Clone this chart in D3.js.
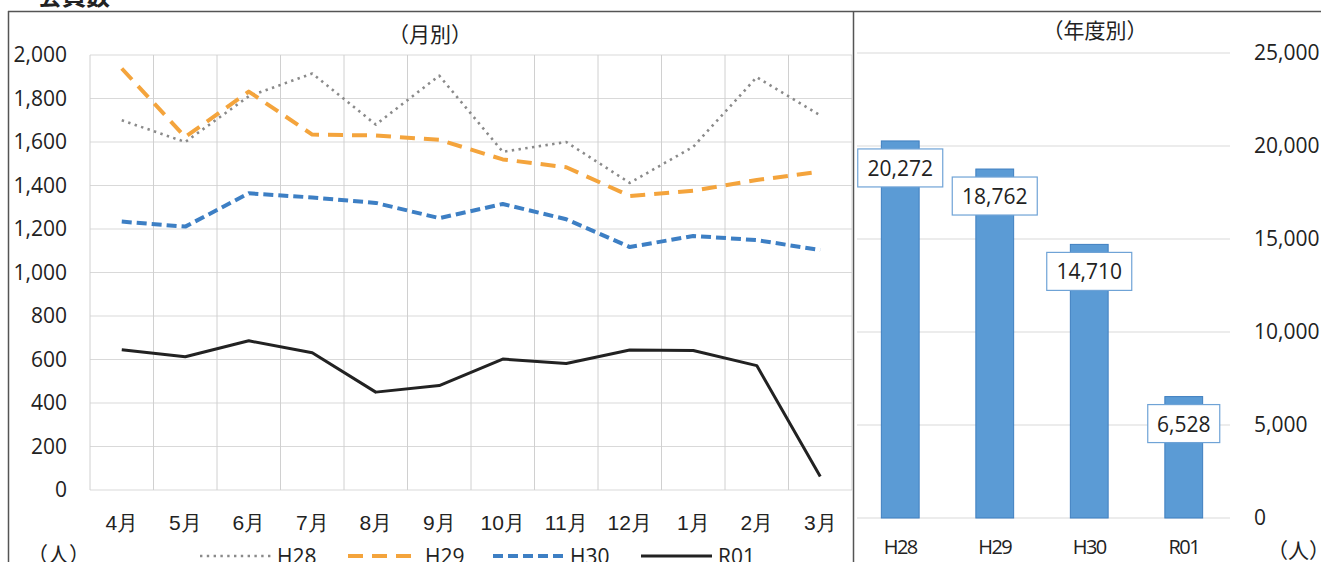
<!DOCTYPE html>
<html><head><meta charset="utf-8">
<script src="https://cdn.jsdelivr.net/npm/d3@7"></script>
<style>
html,body{margin:0;padding:0;background:#fff;}
svg{display:block;font-family:"Noto Sans CJK JP","Noto Sans",sans-serif;}
</style></head>
<body>
<svg id="c" width="1321" height="562"></svg>
<script>
const months = ["4月","5月","6月","7月","8月","9月","10月","11月","12月","1月","2月","3月"];
const seriesNames = ["H28","H29","H30","R01"];
const h28 = [1700,1600,1810,1915,1680,1905,1555,1600,1412,1578,1898,1722];
const h29 = [1938,1623,1832,1634,1630,1610,1520,1484,1352,1376,1425,1464];
const h30 = [1234,1211,1364,1345,1320,1250,1315,1245,1117,1168,1149,1103];
const r01 = [645,613,686,631,450,480,602,582,644,641,572,62];
const leftTicks = [0,200,400,600,800,1000,1200,1400,1600,1800,2000];
const years = ["H28","H29","H30","R01"];
const yearTotals = [20272,18762,14710,6528];
const rightTicks = [0,5000,10000,15000,20000,25000];

const svg = d3.select("#c");
const fmt = d3.format(",");
const numFont = "'Open Sans',sans-serif";

// frame
svg.append("line").attr("x1",8).attr("x2",1321).attr("y1",11.5).attr("y2",11.5).attr("stroke","#555").attr("stroke-width",1.5);
svg.append("line").attr("x1",8.5).attr("x2",8.5).attr("y1",11).attr("y2",562).attr("stroke","#555").attr("stroke-width",1.5);
svg.append("line").attr("x1",853.5).attr("x2",853.5).attr("y1",11).attr("y2",562).attr("stroke","#555").attr("stroke-width",1.5);

// title (clipped at top)
svg.append("text").attr("x",38).attr("y",5).attr("font-size",24).attr("font-weight","bold").attr("fill","#222").text("会員数");

// ===== Left chart =====
const x = d3.scaleBand().domain(months).range([90,852]);
const y = d3.scaleLinear().domain([0,2000]).range([490,55]);
const gl = svg.append("g");
gl.selectAll(".hg").data(leftTicks).join("line")
  .attr("x1",90).attr("x2",852).attr("y1",d=>y(d)).attr("y2",d=>y(d))
  .attr("stroke","#d9d9d9").attr("stroke-width",1);
const vlines = months.map(m=>x(m)).concat([852]);
gl.selectAll(".vg").data(vlines).join("line")
  .attr("x1",d=>d).attr("x2",d=>d).attr("y1",y(2000)).attr("y2",y(0))
  .attr("stroke","#d0d0d0").attr("stroke-width",1);

const yAxis = d3.axisLeft(y).tickValues(leftTicks).tickFormat(fmt).tickSize(0).tickPadding(0);
const ya = svg.append("g").attr("transform","translate(67,0)").call(yAxis);
ya.select(".domain").remove();
ya.selectAll("text").attr("font-size",21).attr("fill","#222").attr("font-family",numFont);

const xAxis = d3.axisBottom(x).tickSize(0).tickPadding(0);
const xa = svg.append("g").attr("transform","translate(0,511)").call(xAxis);
xa.select(".domain").remove();
xa.selectAll("text").attr("font-size",21).attr("fill","#222").attr("dy","0.9em");

const line = d3.line().x((d,i)=>x(months[i])+x.bandwidth()/2).y(d=>y(d));
const styles = [
  {data:h28, color:"#8a8a8a", w:2.6, dash:"2.4,4.4"},
  {data:h29, color:"#f4a43c", w:4, dash:"15,9"},
  {data:h30, color:"#3d7fc4", w:4, dash:"10,5"},
  {data:r01, color:"#222222", w:3, dash:null}
];
styles.forEach(s=>{
  svg.append("path").datum(s.data).attr("d",line)
    .attr("fill","none").attr("stroke",s.color).attr("stroke-width",s.w)
    .attr("stroke-dasharray",s.dash).attr("stroke-linejoin","round");
});

svg.append("text").attr("x",430).attr("y",42).attr("text-anchor","middle").attr("font-size",21).attr("fill","#222").text("（月別）");
svg.append("text").attr("x",27).attr("y",562).attr("font-size",21).attr("fill","#222").text("（人）");

// legend
const legX = [200,348,493,641];
const legG = svg.append("g");
styles.forEach((s,i)=>{
  legG.append("line").attr("x1",legX[i]).attr("x2",legX[i]+71).attr("y1",556).attr("y2",556)
    .attr("stroke",s.color).attr("stroke-width",s.w).attr("stroke-dasharray",s.dash);
  legG.append("text").attr("x",legX[i]+77).attr("y",564).attr("font-size",21).attr("fill","#222")
    .attr("font-family",numFont).text(seriesNames[i]);
});

// ===== Right chart =====
const xb = d3.scaleBand().domain(years).range([853,1231]).paddingInner(0.6).paddingOuter(0.3);
const yb = d3.scaleLinear().domain([0,25000]).range([518,53]);
svg.append("g").selectAll("line").data(rightTicks).join("line")
  .attr("x1",857).attr("x2",1230).attr("y1",d=>yb(d)).attr("y2",d=>yb(d))
  .attr("stroke","#d9d9d9").attr("stroke-width",1);

const yRA = d3.axisRight(yb).tickValues(rightTicks).tickFormat(fmt).tickSize(0).tickPadding(0);
const yr = svg.append("g").attr("transform","translate(1254,0)").call(yRA);
yr.select(".domain").remove();
yr.selectAll("text").attr("font-size",21).attr("fill","#222").attr("font-family",numFont);

svg.append("g").selectAll("rect").data(yearTotals).join("rect")
  .attr("x",(d,i)=>xb(years[i])).attr("width",xb.bandwidth())
  .attr("y",d=>yb(d)).attr("height",d=>yb(0)-yb(d))
  .attr("fill","#5b9bd5").attr("stroke","#3f7fc0").attr("stroke-width",1);

const xRA = d3.axisBottom(xb).tickSize(0).tickPadding(0);
const xr = svg.append("g").attr("transform","translate(0,536)").call(xRA);
xr.select(".domain").remove();
xr.selectAll("text").attr("font-size",20).attr("fill","#222").attr("dy","0.9em")
  .attr("font-family",numFont).attr("letter-spacing","-1.6");

const lab = svg.append("g").selectAll("g").data(yearTotals).join("g")
  .attr("transform",(d,i)=>`translate(${xb(years[i])+xb.bandwidth()/2},${yb(d)+27})`);
lab.append("rect").attr("x",d=>-(fmt(d).length*6.5+3.5)).attr("y",-19)
  .attr("width",d=>2*(fmt(d).length*6.5+3.5)).attr("height",38)
  .attr("fill","#fff").attr("stroke","#6fa3d6").attr("stroke-width",1.2);
lab.append("text").attr("text-anchor","middle").attr("y",8).attr("font-size",21).attr("fill","#222")
  .attr("font-family",numFont).text(d=>fmt(d));

svg.append("text").attr("x",1095).attr("y",38).attr("text-anchor","middle").attr("font-size",21).attr("fill","#222").text("（年度別）");
svg.append("text").attr("x",1267).attr("y",558).attr("font-size",21).attr("fill","#222").text("（人）");
</script>
</body></html>
